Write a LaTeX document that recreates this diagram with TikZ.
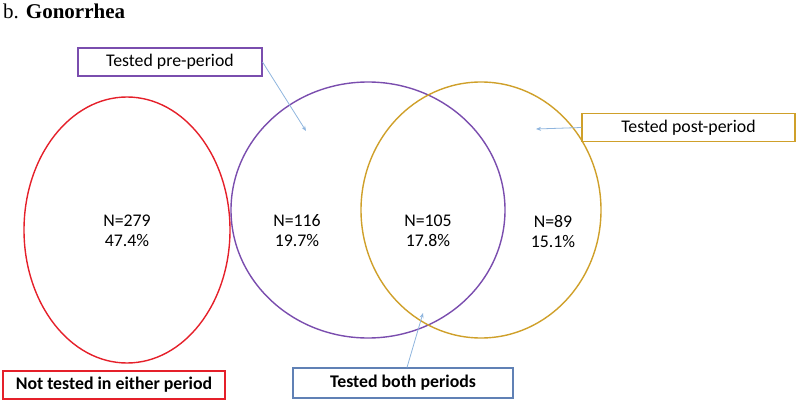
\documentclass[tikz,border=0pt]{standalone}
\usepackage{fontspec}
\setmainfont{Carlito}
\newfontfamily\titlefont{Liberation Serif}
\usetikzlibrary{positioning,arrows.meta,shapes.geometric}

\definecolor{vennRed}{HTML}{E5202A}
\definecolor{vennPurple}{HTML}{7A4DAE}
\definecolor{vennGold}{HTML}{CFA02A}
\definecolor{vennSlate}{HTML}{6081B5}
\definecolor{pointerBlue}{HTML}{8FB5DE}

\begin{document}
\begin{tikzpicture}[
  x=1pt, y=-1pt, font=\fontsize{17.8}{20}\selectfont, >=Stealth,
  ring/.style={draw, ellipse, line width=1.4pt, inner sep=0pt},
  tagBox/.style={draw, fill=white, line width=1.1pt, align=center,
                 inner sep=0pt, minimum height=28pt},
  count/.style={align=center, inner sep=0pt},
  ptr/.style={->, line width=0.8pt, color=pointerBlue,
              arrows={-Stealth[length=5pt,width=4pt]}},
]
\useasboundingbox (0,0) rectangle (800,404);

\node[anchor=base west, inner sep=0pt, font=\titlefont\fontsize{21}{23}\selectfont]
  (title) at (3,19) {b. \textbf{Gonorrhea}};

% circles
\node[ring, vennRed, minimum width=206pt, minimum height=266pt] (noneRing) at (127,230) {};
\node[ring, vennPurple, minimum width=274pt, minimum height=256pt] (preRing) at (368,210) {};
\node[ring, vennGold, minimum width=240pt, minimum height=256pt] (postRing) at (481,210) {};

% counts
\node[count] (noneN) at (127,231) {N=279\\47.4\%};
\node[count] (preN)  at (297,231) {N=116\\19.7\%};
\node[count] (bothN) at (428,231) {N=105\\17.8\%};
\node[count] (postN) at (553,231) {N=89\\15.1\%};

% labels
\node[tagBox, draw=vennPurple, minimum width=184pt] (preBox)  at (170,62) {Tested pre-period};
\node[tagBox, draw=vennGold, minimum width=213pt]   (postBox) at (688.5,127.5) {Tested post-period};
\node[tagBox, draw=vennRed, minimum width=222pt, font=\bfseries\fontsize{17.8}{20}\selectfont]
  (noneBox) at (114,385) {Not tested in either period};
\node[tagBox, draw=vennSlate, minimum width=220pt, minimum height=30pt, font=\bfseries\fontsize{17.8}{20}\selectfont]
  (bothBox) at (403,383) {Tested both periods};

\coordinate (preTip)  at (306,131);
\coordinate (postTip) at (536,129);
\coordinate (bothTip) at (423,313);

\draw[ptr] (preBox.east) -- (preTip);
\draw[ptr] (postBox.west) -- (postTip);
\draw[ptr] ([xshift=4pt]bothBox.north) -- (bothTip);
\end{tikzpicture}
\end{document}
